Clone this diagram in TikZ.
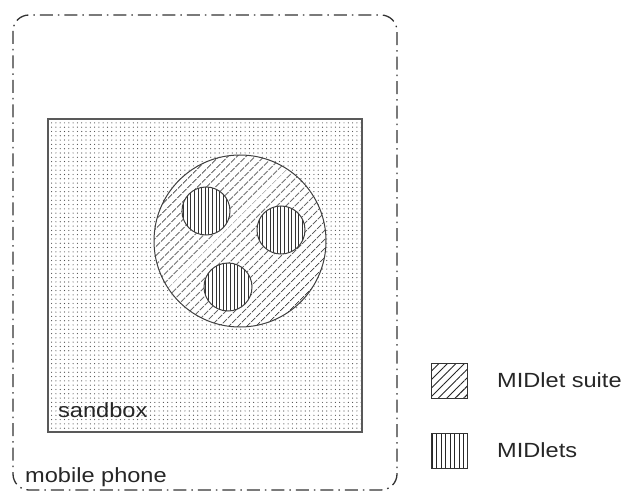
\documentclass[tikz,border=0pt]{standalone}
\usepackage{fontspec}
\setmainfont[FakeStretch=1.15]{Liberation Sans}
\usetikzlibrary{patterns.meta}
\tikzset{
  lbl/.style={anchor=west, inner sep=0pt, font=\fontsize{20.5pt}{24pt}\selectfont, text=black!85},
  suite/.style={draw=black!75, line width=1pt, pattern={Lines[angle=45,distance=6.5pt,line width=1.1pt]}, pattern color=black!80},
  midlet/.style={draw=black!75, line width=1pt, pattern={Lines[angle=90,distance=3.6pt,line width=0.9pt]}, pattern color=black!80},
  legsuite/.style={draw=black!80, line width=1pt, pattern={Lines[angle=45,distance=6pt,line width=0.9pt]}, pattern color=black!85},
  legmidlet/.style={draw=black!80, line width=1pt, pattern={Lines[angle=90,distance=4.5pt,line width=0.9pt]}, pattern color=black!85},
}
\begin{document}
\begin{tikzpicture}[x=1pt,y=-1pt]
\useasboundingbox (0,0) rectangle (629,497);
% mobile phone
\draw[black!80, line width=1.3pt, rounded corners=16pt, dash pattern=on 13pt off 5pt on 1.5pt off 5pt]
  (13,15) rectangle (397,490);
\node[lbl] (phone) at (25,477) {mobile phone};
% sandbox
\path[pattern={Dots[distance=4.3pt,radius=0.6pt]}, pattern color=black!70] (48,119) rectangle (362,432);
\draw[black!65, line width=1.6pt] (48,119) rectangle (362,432);
\node[lbl] (sandbox) at (58,410) {sandbox};
% MIDlet suite
\path[fill=white] (240,241) circle (86);
\draw[suite] (240,241) circle (86);
\foreach \n/\cx/\cy in {a/206/211, b/281/230, c/228/287}{
  \path[fill=white] (\cx,\cy) circle (24);
  \draw[midlet] (\cx,\cy) circle (24);
}
% legend
\draw[legsuite] (431,363) rectangle (467,398);
\node[lbl] (lsuite) at (497,380) {MIDlet suite};
\draw[legmidlet] (431,433) rectangle (467,468);
\node[lbl] (lmidlet) at (497,450) {MIDlets};
\end{tikzpicture}
\end{document}
